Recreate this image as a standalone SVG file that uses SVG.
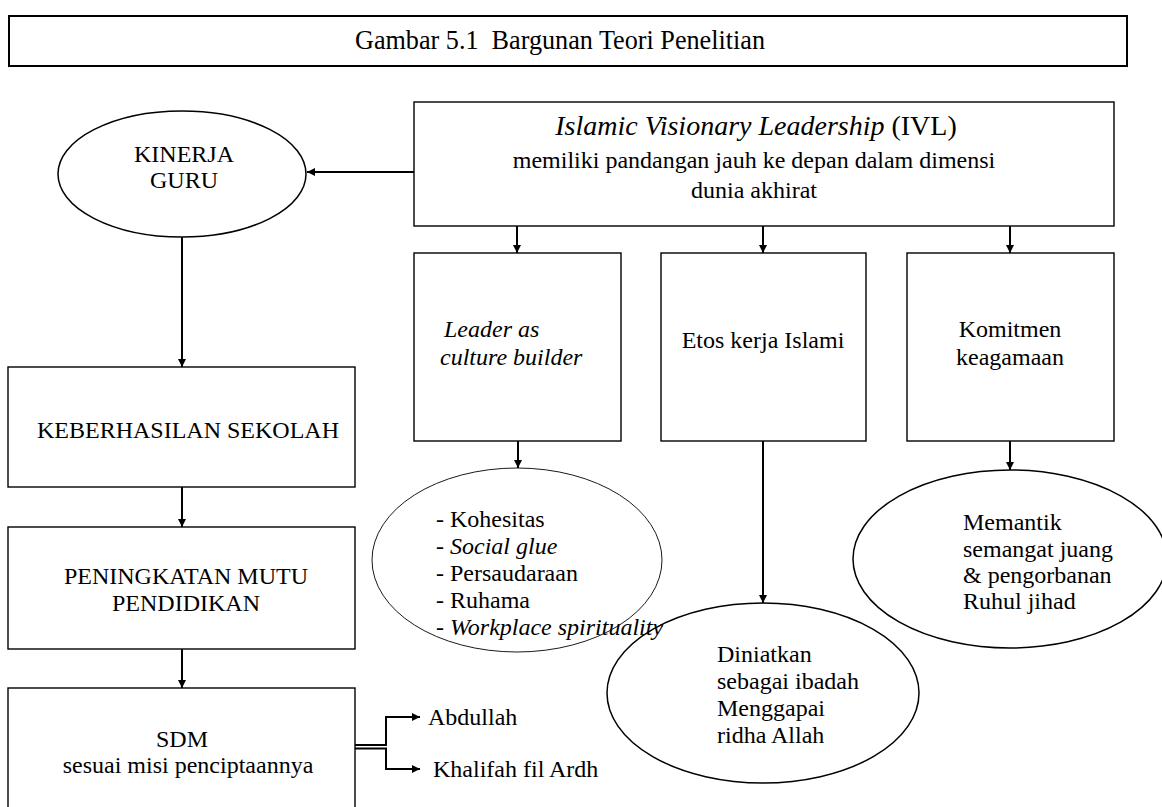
<svg xmlns="http://www.w3.org/2000/svg" width="1162" height="807" viewBox="0 0 1162 807">
  <defs>
    <marker id="arrow" viewBox="0 0 10 10" refX="10" refY="5" markerWidth="9" markerHeight="8" markerUnits="userSpaceOnUse" orient="auto">
      <path d="M0,0 L10,5 L0,10 z" fill="#000"/>
    </marker>
    <style>
      text { font-family: "Liberation Serif", "Times New Roman", serif; font-size: 24px; fill: #000; }
      .box { fill: #fff; stroke: #000; stroke-width: 1.4; }
      .oval { fill: #fff; stroke: #000; stroke-width: 1.5; }
      .thin { fill: none; stroke: #000; stroke-width: 0.9; }
      .c { text-anchor: middle; }
      .it { font-style: italic; }
      .conn-a { fill: none; stroke: #000; stroke-width: 2; marker-end: url(#arrow); }
    </style>
  </defs>
  <rect width="1162" height="807" fill="#fff"/>

  <!-- caption -->
  <g id="title">
    <rect x="9" y="16" width="1118" height="50" fill="#fff" stroke="#000" stroke-width="2"/>
    <text x="560" y="49" class="c" style="font-size:27px" textLength="410" lengthAdjust="spacingAndGlyphs">Gambar 5.1&#160; Bargunan Teori Penelitian</text>
  </g>

  <!-- connectors -->
  <g id="connectors">
    <line class="conn-a" x1="414" y1="172" x2="307" y2="172"/>
    <line class="conn-a" x1="517" y1="226" x2="517" y2="253"/>
    <line class="conn-a" x1="763" y1="226" x2="763" y2="253"/>
    <line class="conn-a" x1="1010" y1="226" x2="1010" y2="253"/>
    <line class="conn-a" x1="182" y1="237" x2="182" y2="367"/>
    <line class="conn-a" x1="182" y1="487" x2="182" y2="527"/>
    <line class="conn-a" x1="182" y1="649" x2="182" y2="688"/>
    <line class="conn-a" x1="518" y1="441" x2="518" y2="468"/>
    <line class="conn-a" x1="763" y1="441" x2="763" y2="603"/>
    <line class="conn-a" x1="1010" y1="441" x2="1010" y2="470"/>
    <polyline class="conn-a" points="354,745 386,745 386,717 420,717"/>
    <polyline class="conn-a" points="354,748.5 386,748.5 386,769 420,769"/>
  </g>

  <g id="kinerja-guru">
    <ellipse class="oval" cx="182" cy="174" rx="124" ry="63"/>
    <text x="184" y="162" class="c">KINERJA</text>
    <text x="184" y="188" class="c">GURU</text>
  </g>

  <g id="ivl">
    <rect class="box" x="414" y="102" width="700" height="124"/>
    <text x="756" y="135" class="c" style="font-size:28px"><tspan class="it">Islamic Visionary Leadership</tspan> (IVL)</text>
    <text x="754" y="168" class="c">memiliki pandangan jauh ke depan dalam dimensi</text>
    <text x="754" y="198" class="c">dunia akhirat</text>
  </g>

  <g id="leader-culture">
    <rect class="box" x="414" y="253" width="207" height="188"/>
    <text x="444" y="337" class="it">Leader as</text>
    <text x="440" y="365" class="it">culture builder</text>
  </g>

  <g id="etos-kerja">
    <rect class="box" x="661" y="253" width="205" height="188"/>
    <text x="763" y="348" class="c">Etos kerja Islami</text>
  </g>

  <g id="komitmen">
    <rect class="box" x="907" y="253" width="207" height="188"/>
    <text x="1010" y="337" class="c">Komitmen</text>
    <text x="1010" y="365" class="c">keagamaan</text>
  </g>

  <g id="keberhasilan">
    <rect class="box" x="8" y="367" width="347" height="120"/>
    <text x="188" y="438" class="c">KEBERHASILAN SEKOLAH</text>
  </g>

  <g id="peningkatan-mutu">
    <rect class="box" x="8" y="527" width="347" height="122"/>
    <text x="186" y="584" class="c">PENINGKATAN MUTU</text>
    <text x="186" y="611" class="c">PENDIDIKAN</text>
  </g>

  <g id="sdm">
    <rect class="box" x="8" y="688" width="347" height="140"/>
    <text x="182" y="747" class="c">SDM</text>
    <text x="188" y="773" class="c">sesuai misi penciptaannya</text>
  </g>

  <g id="abdullah">
    <text x="428" y="725">Abdullah</text>
  </g>
  <g id="khalifah">
    <text x="433" y="777">Khalifah fil Ardh</text>
  </g>

  <g id="kohesitas">
    <ellipse class="thin" cx="517" cy="560" rx="145" ry="92"/>
    <text x="436" y="527">- Kohesitas</text>
    <text x="436" y="554">- <tspan class="it">Social glue</tspan></text>
    <text x="436" y="581">- Persaudaraan</text>
    <text x="436" y="608">- Ruhama</text>
  </g>

  <g id="memantik">
    <ellipse class="oval" cx="1010" cy="559" rx="157" ry="89"/>
    <text x="963" y="530">Memantik</text>
    <text x="963" y="557">semangat juang</text>
    <text x="963" y="583">&amp; pengorbanan</text>
    <text x="963" y="609">Ruhul jihad</text>
  </g>

  <g id="diniatkan">
    <ellipse class="oval" cx="763" cy="693" rx="156" ry="90"/>
    <text x="717" y="662">Diniatkan</text>
    <text x="717" y="689">sebagai ibadah</text>
    <text x="717" y="716">Menggapai</text>
    <text x="717" y="743">ridha Allah</text>
  </g>

  <!-- last list item runs over the neighbouring oval -->
  <text x="436" y="635">- <tspan class="it">Workplace spirituality</tspan></text>
</svg>
